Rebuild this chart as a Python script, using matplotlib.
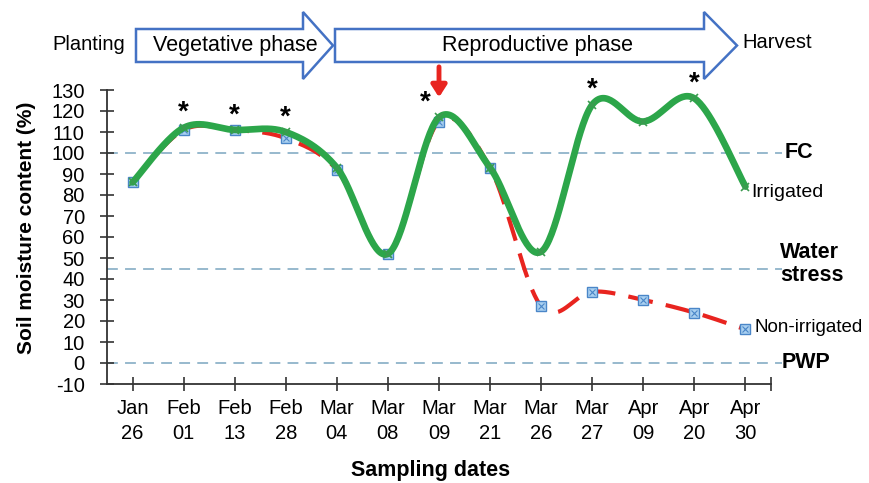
import matplotlib
matplotlib.use("Agg")
import matplotlib.pyplot as plt
import numpy as np
from matplotlib.patches import Polygon

plt.rcParams['font.family'] = ['Liberation Sans', 'DejaVu Sans']
plt.rcParams['axes.unicode_minus'] = False

# data
months = ["Jan", "Feb", "Feb", "Feb", "Mar", "Mar", "Mar", "Mar", "Mar", "Mar", "Apr", "Apr", "Apr"]
days = ["26", "01", "13", "28", "04", "08", "09", "21", "26", "27", "09", "20", "30"]
irrigated = [86, 112, 111, 110, 93, 52, 117, 93, 53, 123, 115, 126, 84]
non_irrigated = [86, 111, 111, 107, 92, 52, 115, 93, 27, 34, 30, 24, 16]
star_idx = [1, 2, 3, 6, 9, 11]
fc_level = 100
stress_level = 45
pwp_level = 0

GREEN = "#2ca64a"
RED = "#e8241f"
REF = "#8fb3c9"
BLUE_EDGE = "#4a86c8"


def smooth(xs, ys, n=40):
    """Excel-like smoothed line (Catmull-Rom bezier)"""
    p = np.column_stack([xs, ys]).astype(float)
    p_ext = np.vstack([p[0], p, p[-1]])
    out = []
    t = np.linspace(0, 1, n)[:, None]
    for i in range(len(p) - 1):
        p0, p3 = p_ext[i + 1], p_ext[i + 2]
        c1 = p0 + (p_ext[i + 2] - p_ext[i]) / 6
        c2 = p3 - (p_ext[i + 3] - p_ext[i + 1]) / 6
        seg = ((1 - t) ** 3) * p0 + 3 * ((1 - t) ** 2) * t * c1 + 3 * (1 - t) * t ** 2 * c2 + t ** 3 * p3
        out.append(seg if i == 0 else seg[1:])
    out = np.vstack(out)
    return out[:, 0], out[:, 1]


W, H = 869, 483
fig = plt.figure(figsize=(W / 100, H / 100), dpi=100)
ax = fig.add_axes([107 / W, 1 - 384 / H, (771 - 107) / W, (384 - 90) / H])

x = np.arange(len(days))

# reference lines
for lvl in [fc_level, stress_level, pwp_level]:
    ax.plot([-0.5, 12.72], [lvl, lvl], color=REF, lw=1.3, dashes=(6, 4), clip_on=False, zorder=1)

# non-irrigated
sx, sy = smooth(x, non_irrigated)
ax.plot(sx, sy, color=RED, lw=3, dashes=(6, 3.2), zorder=2, solid_capstyle='butt')
ax.plot(x, non_irrigated, ls='none', marker='s', ms=7, mfc="#a9d0f0", mec=BLUE_EDGE, mew=1, zorder=3)
ax.plot(x, non_irrigated, ls='none', marker='x', ms=4, mec=BLUE_EDGE, mew=0.8, zorder=3)

# irrigated
sx, sy = smooth(x, irrigated)
ax.plot(sx, sy, color=GREEN, lw=4.8, zorder=4, solid_capstyle='round')
ax.plot(x, irrigated, ls='none', marker='x', ms=6, mec="#3c9a50", mew=1.2, zorder=5)

# significance stars
for i in star_idx:
    ypos = max(irrigated[i], non_irrigated[i]) + 7
    xoff = -0.27 if i == 6 else 0
    ax.text(i + xoff, ypos, "*", ha='center', va='center', fontsize=20, fontweight='bold', zorder=6,
            clip_on=False)

# irrigation arrow
ax.annotate("", xy=(6, 126.5), xytext=(6, 141), annotation_clip=False,
            arrowprops=dict(arrowstyle="-|>,head_width=0.45,head_length=0.7", color=RED, lw=3.5,
                            shrinkA=0, shrinkB=0))

# labels on the right
ax.text(12.77, fc_level, "FC", fontsize=15.5, fontweight='bold', va='center', ha='left', clip_on=False)
ax.text(12.68, stress_level + 2, "Water\nstress", fontsize=15.5, fontweight='bold', va='center', ha='left',
        linespacing=1.1, clip_on=False)
ax.text(12.7, pwp_level, "PWP", fontsize=15.5, fontweight='bold', va='center', ha='left', clip_on=False)
ax.text(12.12, 81, "Irrigated", fontsize=14, va='center', ha='left', clip_on=False)
ax.text(12.18, 17, "Non-irrigated", fontsize=13.5, va='center', ha='left', clip_on=False)

ax.set_xlim(-0.5, 12.5)
ax.set_ylim(-10, 130)
ax.set_yticks(np.arange(-10, 131, 10))
ax.set_xticks(x)
ax.set_xticks([12.5], minor=True)
ax.set_xticklabels([m + "\n" + d for m, d in zip(months, days)], linespacing=1.35)
ax.tick_params(axis='both', direction='inout', length=10, width=1.2, color="#333333", labelsize=14.5)
ax.tick_params(axis='x', which='minor', direction='inout', length=10, width=1.2, color="#333333")
ax.tick_params(axis='x', pad=6)
ax.tick_params(axis='y', pad=11)
for side in ['top', 'right']:
    ax.spines[side].set_visible(False)
for side in ['left', 'bottom']:
    ax.spines[side].set_linewidth(1.3)
    ax.spines[side].set_color("#333333")

ax.set_ylabel("Soil moisture content (%)", fontsize=15, fontweight='bold')
ax.set_xlabel("Sampling dates", fontsize=15.5, fontweight='bold')
ax.xaxis.set_label_coords((431 - 107) / (771 - 107), -(460 - 384) / (384 - 90))
ax.yaxis.set_label_coords(-(107 - 36) / (771 - 107), 0.53)


# phase arrows in the header (pixel layout)
def header_arrow(x0, xb, xt):
    pts = [(x0, 29), (xb, 29), (xb, 12), (xt, 45.5), (xb, 79), (xb, 62), (x0, 62)]
    pts = [(px / W, 1 - py / H) for px, py in pts]
    fig.patches.append(Polygon(pts, closed=True, transform=fig.transFigure, fc='white',
                               ec="#4472c4", lw=1.8))


header_arrow(136, 303, 333)
header_arrow(335, 704, 737)
fig.text(89 / W, 1 - 45 / H, "Planting", fontsize=14.5, ha='center', va='center')
fig.text(235 / W, 1 - 45 / H, "Vegetative phase", fontsize=15.5, ha='center', va='center')
fig.text(537 / W, 1 - 45 / H, "Reproductive phase", fontsize=15.5, ha='center', va='center')
fig.text(742 / W, 1 - 43 / H, "Harvest", fontsize=14.5, ha='left', va='center')

fig.savefig("out.png", dpi=100)
